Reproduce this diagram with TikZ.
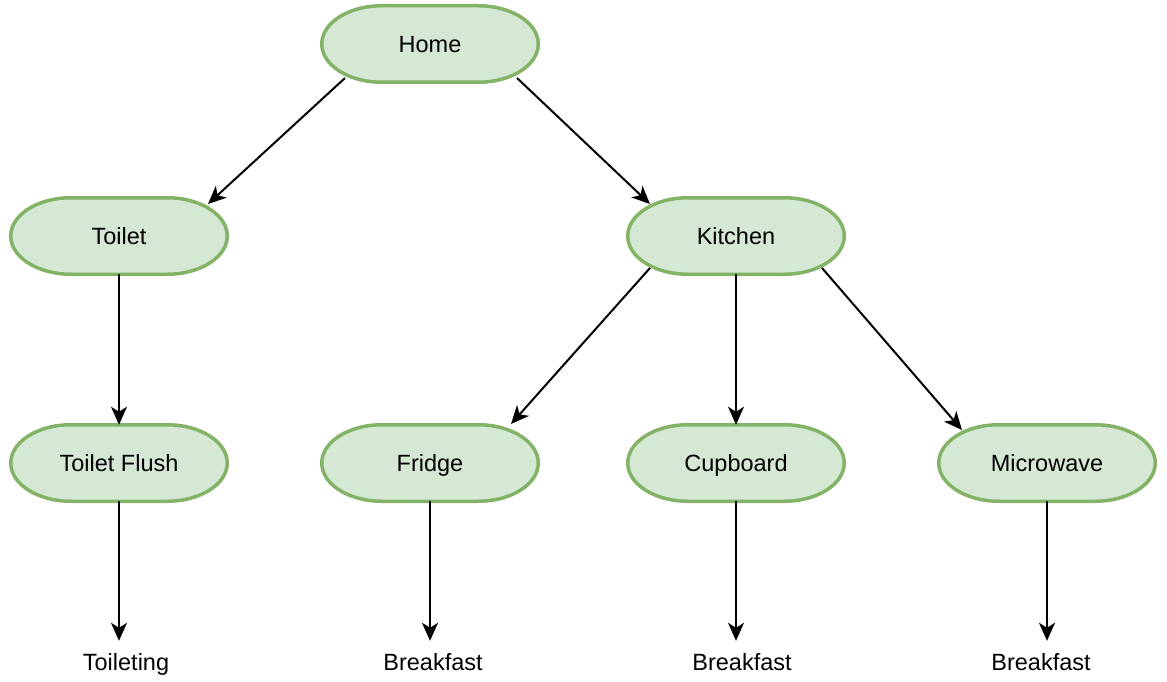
\documentclass[tikz,border=0pt]{standalone}
\usepackage{fontspec}
\setmainfont{Liberation Sans}
\usetikzlibrary{arrows.meta,calc,backgrounds}
\definecolor{nodefill}{HTML}{D5E8D4}
\definecolor{nodeline}{HTML}{82B366}
\begin{document}
\begin{tikzpicture}[x=1pt,y=-1pt,
  place/.style={draw=none,inner sep=0pt,outer sep=0pt,
    minimum width=216.5pt,minimum height=76.5pt,
    text height=17pt,text depth=0pt,
    font=\fontsize{23.5}{28}\selectfont},
  outline/.style={draw=nodeline,fill=nodefill,line width=3.5pt},
  leaf/.style={font=\fontsize{23.5}{28}\selectfont,text height=17pt,
    text depth=5pt,inner xsep=2pt,inner ysep=12pt,anchor=base},
  link/.style={line width=2pt,-{Stealth[length=18pt,width=16pt,inset=5pt]}}]
\useasboundingbox (0,0) rectangle (1167,682);

% places
\node[place] (home)      at (430,44)  {Home};
\node[place] (toilet)    at (119,236) {Toilet};
\node[place] (kitchen)   at (736,236) {Kitchen};
\node[place] (flush)     at (119,463) {Toilet Flush};
\node[place] (fridge)    at (430,463) {Fridge};
\node[place] (cupboard)  at (736,463) {Cupboard};
\node[place] (microwave) at (1047,463) {Microwave};

% oval outlines behind the place labels
\begin{scope}[on background layer]
  \foreach \n in {home,toilet,kitchen,flush,fridge,cupboard,microwave}
    \draw[outline] ($(\n.north west)+(60,0)$) -- ($(\n.north east)+(-60,0)$)
      arc[start angle=90,end angle=-90,x radius=60pt,y radius=38.25pt]
      -- ($(\n.south west)+(60,0)$)
      arc[start angle=270,end angle=90,x radius=60pt,y radius=38.25pt]
      -- cycle;
\end{scope}

% activities
\node[leaf] (toileting) at (126,670)  {Toileting};
\node[leaf] (bfast1)    at (433,670)  {Breakfast};
\node[leaf] (bfast2)    at (742,670)  {Breakfast};
\node[leaf] (bfast3)    at (1041,670) {Breakfast};

% links between places
\draw[link] ($(home.center)+(-85,34)$) -- ($(toilet.center)+(89,-32)$);
\draw[link] ($(home.center)+(87,34)$) -- ($(kitchen.center)+(-86,-32)$);
\draw[link] (toilet.south) -- (flush.north);
\draw[link] ($(kitchen.center)+(-86,32)$) -- ($(fridge.center)+(81,-39)$);
\draw[link] (kitchen.south) -- (cupboard.north);
\draw[link] ($(kitchen.center)+(86,32)$) -- ($(microwave.center)+(-85,-33)$);

% links to activities
\draw[link] (flush.south) -- (flush.south |- toileting.north);
\draw[link] (fridge.south) -- (fridge.south |- bfast1.north);
\draw[link] (cupboard.south) -- (cupboard.south |- bfast2.north);
\draw[link] (microwave.south) -- (microwave.south |- bfast3.north);
\end{tikzpicture}
\end{document}
